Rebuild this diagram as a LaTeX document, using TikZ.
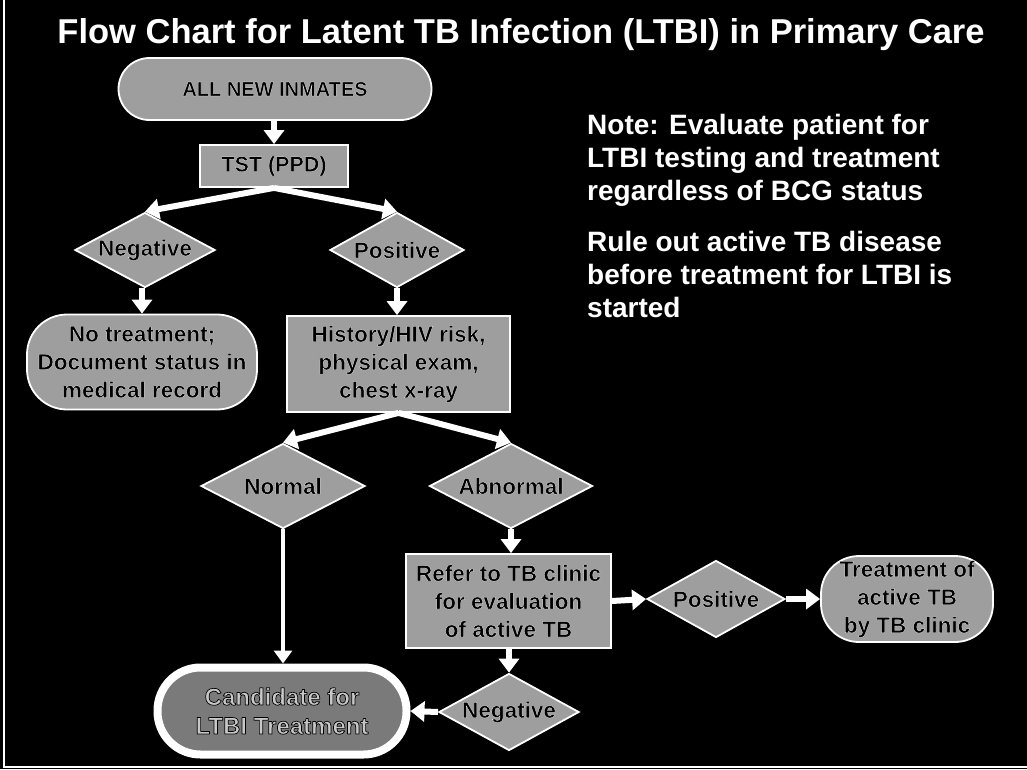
\documentclass[tikz,border=0pt]{standalone}
\usepackage{fontspec}
\setmainfont{Liberation Sans}
\usetikzlibrary{shapes.geometric,arrows.meta}
\definecolor{boxgray}{HTML}{9E9E9E}
\definecolor{candgray}{HTML}{7A7A7A}
\definecolor{candtext}{HTML}{C8C8C8}
\newcommand{\wc}[1]{\special{pdf:literal direct 2 Tr 0.25 w 1 j 1 1 1 RG}#1\special{pdf:literal direct 0 Tr}}
\newcommand{\bc}[1]{\special{pdf:literal direct 2 Tr 0.7 w 1 j 0 0 0 RG}#1\special{pdf:literal direct 0 Tr}}
\begin{document}
\begin{tikzpicture}[x=1pt,y=-1pt,
  box/.style={draw=white, line width=1.8pt, fill=boxgray, inner sep=0pt, align=center,
    font=\fontsize{22.5}{28}\selectfont\bfseries, text=black},
  pillbox/.style={box, rounded corners=#1},
  dia/.style={box, diamond, shape aspect=2.2},
  arr/.style={draw=white, line width=6pt, -{Triangle[width=20pt,length=14pt]}},
  thinarr/.style={draw=white, line width=4.5pt, -{Triangle[width=18pt,length=13pt]}},
  title/.style={text=white, font=\fontsize{34.5}{40}\selectfont\bfseries, inner sep=0pt, anchor=base},
  note/.style={text=white, font=\fontsize{28}{33}\selectfont\bfseries, inner sep=0pt, align=left, anchor=north west}
]
\useasboundingbox (0,0) rectangle (1027,769);
\fill[black] (0,0) rectangle (1027,769);
\draw[white, line width=1.5pt] (4,0) -- (4,767) -- (1027,767);

\node[title] (ttl) at (521,43) {Flow Chart for Latent TB Infection (LTBI) in Primary Care};

\node[note] (note1) at (587,114.5) {Note: Evaluate patient for\\LTBI testing and treatment\\regardless of BCG status};
\node[note] (note2) at (587,231.5) {Rule out active TB disease\\before treatment for LTBI is\\started};

% nodes
\node[pillbox=31pt, minimum width=313pt, minimum height=62pt, font=\fontsize{20}{24}\selectfont\bfseries] (inm) at (275,89) {\wc{ALL NEW INMATES}};
\node[box, minimum width=148pt, minimum height=42pt, font=\fontsize{21.5}{26}\selectfont\bfseries] (tst) at (274,166) {\wc{TST (PPD)}};
\node[dia, minimum width=137pt, minimum height=75pt] (neg) at (145,250) {\wc{Negative}};
\node[dia, minimum width=134pt, minimum height=75pt] (pos) at (397,250) {\wc{Positive}};
\node[pillbox=40pt, minimum width=230pt, minimum height=95pt] (notr) at (142,362)
  {\wc{No treatment;}\\\wc{Document status in}\\\wc{medical record}};
\node[box, minimum width=223pt, minimum height=96pt] (hist) at (398.5,364)
  {\wc{History/HIV risk,}\\\wc{physical exam,}\\\wc{chest x-ray}};
\node[dia, minimum width=164pt, minimum height=85pt] (norm) at (283,486) {\wc{Normal}};
\node[dia, minimum width=163pt, minimum height=85pt] (abn) at (511,486) {\wc{Abnormal}};
\node[box, minimum width=205pt, minimum height=94pt] (ref) at (508.5,601)
  {\wc{Refer to TB clinic}\\\wc{for evaluation}\\\wc{of active TB}};
\node[dia, minimum width=138pt, minimum height=77pt] (pos2) at (716,599) {\wc{Positive}};
\node[pillbox=38pt, minimum width=172pt, minimum height=86pt] (treat) at (907,599)
  {\wc{Treatment of}\\\wc{active TB}\\\wc{by TB clinic}};
\node[dia, minimum width=132pt, minimum height=77pt] (neg2) at (509,712) {\wc{Negative}};
\node[box, rounded corners=43pt, line width=8pt, fill=candgray, text=candtext,
  font=\fontsize{24}{29}\selectfont\bfseries, minimum width=249pt, minimum height=87pt] (cand) at (282,711)
  {\bc{Candidate for}\\\bc{LTBI Treatment}};

% connectors
\draw[arr] (inm.south -| tst.north) -- (tst.north);
\draw[arr] (tst.south) -- (neg.north);
\draw[arr] (tst.south) -- (pos.north);
\draw[arr] (neg.south -| notr.north) -- (notr.north);
\draw[arr] (pos.south) -- (pos.south |- hist.north);
\draw[arr] (hist.south) -- (norm.north);
\draw[arr] (hist.south) -- (abn.north);
\draw[thinarr] (norm.south) -- (norm.south |- cand.north);
\draw[arr] (abn.south) -- (abn.south |- ref.north);
\draw[arr] (ref.east) -- (pos2.west);
\draw[arr] (pos2.east) -- (treat.west);
\draw[arr] (ref.south -| neg2.north) -- (neg2.north);
\draw[arr] (neg2.west) -- (cand.east);
\end{tikzpicture}
\end{document}
